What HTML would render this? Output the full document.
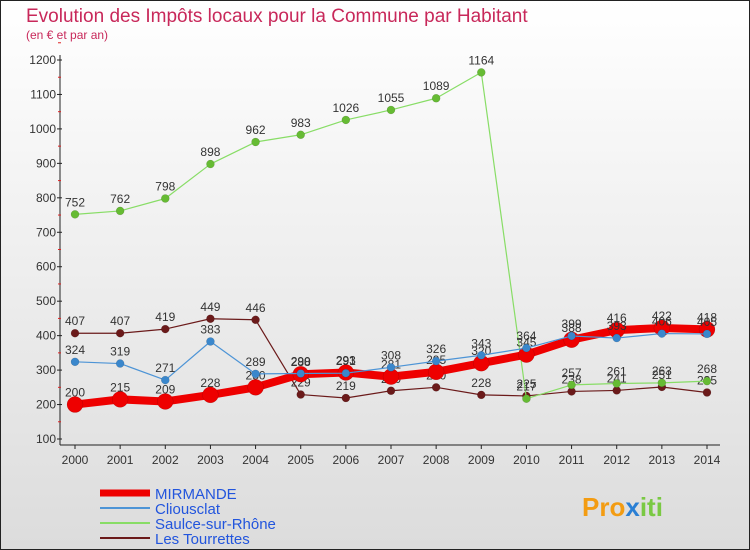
<!DOCTYPE html>
<html><head><meta charset="utf-8"><style>
body{margin:0}
#c{width:750px;height:550px;position:relative;font-family:"Liberation Sans",sans-serif;overflow:hidden}
</style></head><body>
<div id="c">
<svg id="s" width="750" height="550" xmlns="http://www.w3.org/2000/svg">
<defs><linearGradient id="bg" x1="0" y1="0" x2="0" y2="1"><stop offset="0" stop-color="#ffffff"/><stop offset="1" stop-color="#dcdcdc"/></linearGradient></defs>
<rect x="0.5" y="0.5" width="749" height="549" fill="url(#bg)" stroke="#222"/>
<text x="26" y="22" font-size="19" fill="#c8285a">Evolution des Impôts locaux pour la Commune par Habitant</text>
<text x="26" y="39" font-size="12" fill="#c8285a">(en € et par an)</text>
<g id="axes"></g><g id="series"></g><g id="legend"></g>
<text x="582" y="516" font-size="26" font-weight="bold" fill="#f39c12">Pro<tspan fill="#2a7fd4">x</tspan><tspan fill="#7ac943">iti</tspan></text>
</svg>
</div>
<script>
const years=[2000,2001,2002,2003,2004,2005,2006,2007,2008,2009,2010,2011,2012,2013,2014];
const mirmande=[200,215,209,228,250,288,293,281,295,320,345,388,416,422,418];
const cliousclat=[324,319,271,383,289,290,291,308,326,343,364,399,393,406,405];
const saulce=[752,762,798,898,962,983,1026,1055,1089,1164,217,257,261,263,268];
const tourrettes=[407,407,419,449,446,229,219,240,250,228,225,238,241,251,235];
const yTicks=[100,200,300,400,500,600,700,800,900,1000,1100,1200];
const NS="http://www.w3.org/2000/svg";
function X(i){return 75+i*(707-75)/14;}
function Y(v){return 439-(v-100)*(439-60)/1100;}
function mk(t,a,p){const e=document.createElementNS(NS,t);for(const k in a)e.setAttribute(k,a[k]);p.appendChild(e);return e;}
const ax=document.getElementById('axes');
const yl=mk('line',{x1:60,y1:55,x2:60,y2:445,stroke:'#222'},ax);


const xl=mk('line',{x1:60,y1:445,x2:720,y2:445,stroke:'#222'},ax);


yTicks.forEach(v=>{
 mk('line',{x1:57,y1:Y(v),x2:62,y2:Y(v),stroke:'#222'},ax);
 mk('line',{x1:58,y1:Y(v+50),x2:61,y2:Y(v+50),stroke:'#d22'},ax);
 const t=mk('text',{x:56,y:Y(v)+4,'font-size':12,'text-anchor':'end',fill:'#333'},ax);t.textContent=v;
 
 
});
years.forEach((y,i)=>{
 mk('line',{x1:X(i),y1:445,x2:X(i),y2:449,stroke:'#222'},ax);
 const t=mk('text',{x:X(i),y:464,'font-size':12,'text-anchor':'middle',fill:'#333'},ax);t.textContent=y;
 
 
});
const sg=document.getElementById('series');
function draw(data,color,mcolor,w,r,name,dy){
 const g=mk('g',{},sg);
 
 
 const l=mk('polyline',{points:data.map((v,i)=>X(i)+','+Y(v)).join(' '),fill:'none',stroke:color,'stroke-width':w,'stroke-linejoin':'round'},g);
 
 
 data.forEach((v,i)=>{
  const c=mk('circle',{cx:X(i),cy:Y(v),r:r,fill:mcolor,stroke:'#0003','stroke-width':0.5},g);
  
  
  const t=mk('text',{x:X(i),y:Y(v)-8,'font-size':12,'text-anchor':'middle',fill:'#333'},g);t.textContent=v;
  
  
 });
}
draw(tourrettes,'#6b1a1a','#6b1a1a',1.2,4,'les-tourrettes');
draw(saulce,'#88dd66','#66bb33',1.2,4,'saulce-sur-rhone');
draw(mirmande,'#ee0000','#ee0000',8,8,'mirmande');
draw(cliousclat,'#4d94d6','#3a87cc',1.2,4,'cliousclat');
const lg=document.getElementById('legend');
[['MIRMANDE','#ee0000',7,'#2255dd'],['Cliousclat','#4d94d6',2,'#2255dd'],['Saulce-sur-Rhône','#88dd66',2,'#2255dd'],['Les Tourrettes','#6b1a1a',2,'#2255dd']].forEach((d,i)=>{
 const y=493+i*15;
 const l=mk('line',{x1:100,y1:y,x2:150,y2:y,stroke:d[1],'stroke-width':d[2]},lg);
 
 
 const t=mk('text',{x:155,y:y+6,'font-size':15,fill:d[3]},lg);t.textContent=d[0];
 
 
});
</script>
</body></html>
